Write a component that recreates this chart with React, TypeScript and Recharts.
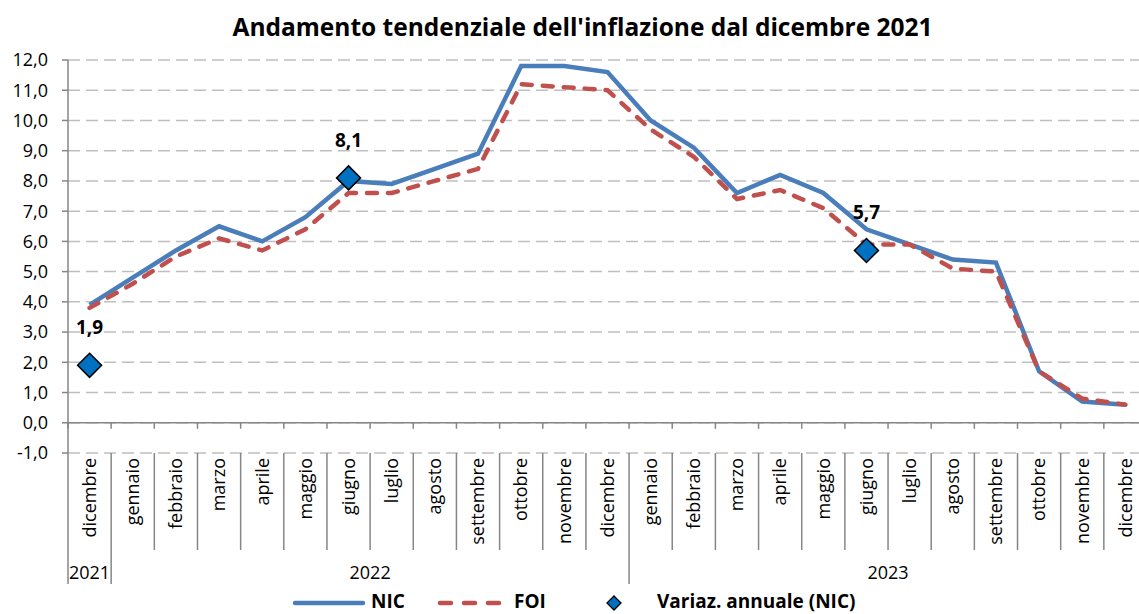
import { ComposedChart, Line, XAxis, YAxis, CartesianGrid, ReferenceLine } from "recharts"

const months = [
  "dicembre",
  "gennaio", "febbraio", "marzo", "aprile", "maggio", "giugno",
  "luglio", "agosto", "settembre", "ottobre", "novembre", "dicembre",
  "gennaio", "febbraio", "marzo", "aprile", "maggio", "giugno",
  "luglio", "agosto", "settembre", "ottobre", "novembre", "dicembre",
]

const years = [
  { label: "2021", start: 0, end: 0 },
  { label: "2022", start: 1, end: 12 },
  { label: "2023", start: 13, end: 24 },
]

const nic = [3.9, 4.8, 5.7, 6.5, 6.0, 6.8, 8.0, 7.9, 8.4, 8.9, 11.8, 11.8, 11.6, 10.0, 9.1, 7.6, 8.2, 7.6, 6.4, 5.9, 5.4, 5.3, 1.7, 0.7, 0.6]
const foi = [3.8, 4.6, 5.5, 6.1, 5.7, 6.4, 7.6, 7.6, 8.0, 8.4, 11.2, 11.1, 11.0, 9.7, 8.8, 7.4, 7.7, 7.1, 5.9, 5.9, 5.1, 5.0, 1.7, 0.8, 0.6]
// variazione annuale NIC, only three points shown
const annual = [1.9, null, null, null, null, null, 8.1, null, null, null, null, null, null, null, null, null, null, null, 5.7, null, null, null, null, null, null]

const yTicks = [-1, 0, 1, 2, 3, 4, 5, 6, 7, 8, 9, 10, 11, 12]

const data = months.map((m, i) => ({
  key: `${m}-${i}`,
  nic: nic[i],
  foi: foi[i],
  annual: annual[i],
}))

const W = 1160
const H = 614
const MARGIN = { top: 60, right: 13, bottom: 30, left: 0 }
const Y_AXIS_W = 68
const X_AXIS_H = 131
const PLOT_W = W - MARGIN.left - MARGIN.right - Y_AXIS_W
const PLOT_H = H - MARGIN.top - MARGIN.bottom - X_AXIS_H
const UNIT = PLOT_H / (yTicks.length - 1)

const FONT = "'Open Sans', sans-serif"
const AXIS_GRAY = "#868686"
const BLUE = "#4a7ebb"
const RED = "#c0504d"

const fmt = (v: number) => v.toFixed(1).replace(".", ",")

function MonthTick(props: any) {
  const { x, y, index } = props
  const bw = PLOT_W / months.length
  const left = x - bw / 2
  const right = x + bw / 2
  const grp = years.find((g) => g.start === index)
  const last = index === months.length - 1
  return (
    <g>
      {/* small ticks on the zero line */}
      <line x1={left} y1={y - UNIT} x2={left} y2={y - UNIT + 6} stroke={AXIS_GRAY} strokeWidth={1.5} />
      {last && <line x1={right} y1={y - UNIT} x2={right} y2={y - UNIT + 6} stroke={AXIS_GRAY} strokeWidth={1.5} />}
      <line x1={left} y1={y} x2={left} y2={y + (grp ? X_AXIS_H : 97)} stroke={AXIS_GRAY} strokeWidth={1.5} />
      {last && <line x1={right} y1={y} x2={right} y2={y + X_AXIS_H} stroke={AXIS_GRAY} strokeWidth={1.5} />}
      <text
        x={x}
        y={y + 5}
        dy="0.35em"
        textAnchor="end"
        transform={`rotate(-90, ${x}, ${y + 5})`}
        fontFamily={FONT}
        fontSize={18}
        fill="#000"
      >
        {months[index]}
      </text>
      {grp && (
        <text
          x={left + ((grp.end - grp.start + 1) * bw) / 2}
          y={y + 120}
          dy="0.35em"
          textAnchor="middle"
          fontFamily={FONT}
          fontSize={18}
          fill="#000"
        >
          {grp.label}
        </text>
      )}
    </g>
  )
}

function Diamond(props: any) {
  const { cx, cy, value } = props
  if (value == null || cy == null) return <g key={props.key} />
  const r = 12
  return (
    <g key={props.key}>
      <path
        d={`M${cx},${cy - r} L${cx + r},${cy} L${cx},${cy + r} L${cx - r},${cy} Z`}
        fill="#0070c0"
        stroke="#000"
        strokeWidth={1.5}
      />
      <text x={cx} y={cy - 31} textAnchor="middle" fontFamily={FONT} fontWeight="bold" fontSize={19} fill="#000">
        {fmt(value)}
      </text>
    </g>
  )
}

function LegendBar() {
  return (
    <svg width={1139} height={26} style={{ position: "absolute", left: 0, top: 588 }}>
      <line x1={295} y1={15} x2={363} y2={15} stroke={BLUE} strokeWidth={4.5} strokeLinecap="round" />
      <text x={371} y={20} fontFamily={FONT} fontWeight="bold" fontSize={19}>NIC</text>
      <line x1={440} y1={15} x2={499} y2={15} stroke={RED} strokeWidth={4.5} strokeLinecap="round" strokeDasharray="11 13" />
      <text x={514} y={20} fontFamily={FONT} fontWeight="bold" fontSize={19}>FOI</text>
      <path d="M614,8 L621,15 L614,22 L607,15 Z" fill="#0070c0" stroke="#000" strokeWidth={1.3} />
      <text x={657} y={20} fontFamily={FONT} fontWeight="bold" fontSize={19}>Variaz. annuale (NIC)</text>
    </svg>
  )
}

export default function App() {
  return (
    <div style={{ position: "absolute", left: 0, top: 0, width: 1139, height: 614, overflow: "hidden", background: "#fff" }}>
      <div
        style={{
          position: "absolute",
          left: 0,
          top: 13,
          width: 1165,
          textAlign: "center",
          fontFamily: FONT,
          fontWeight: "bold",
          fontSize: 24.5,
          lineHeight: "28px",
          color: "#000",
          whiteSpace: "nowrap",
        }}
      >
        Andamento tendenziale dell'inflazione dal dicembre 2021
      </div>
      <ComposedChart width={W} height={H} data={data} margin={MARGIN}>
        <CartesianGrid vertical={false} stroke="#bfbfbf" strokeWidth={1.5} strokeDasharray="12 6" />
        <XAxis
          dataKey="key"
          scale="band"
          interval={0}
          height={X_AXIS_H}
          axisLine={false}
          tickLine={false}
          tickSize={0}
          tickMargin={0}
          tick={<MonthTick />}
        />
        <YAxis
          domain={[-1, 12]}
          ticks={yTicks}
          width={Y_AXIS_W}
          allowDataOverflow
          tickFormatter={fmt}
          axisLine={{ stroke: AXIS_GRAY, strokeWidth: 1.5 }}
          tickLine={{ stroke: AXIS_GRAY, strokeWidth: 1.5 }}
          tickSize={6}
          tickMargin={14}
          tick={{ fontFamily: FONT, fontSize: 18, fill: "#000" }}
        />
        <ReferenceLine y={0} stroke={AXIS_GRAY} strokeWidth={1.5} />
        <Line type="linear" dataKey="nic" stroke={BLUE} strokeWidth={4.5} dot={false} isAnimationActive={false} />
        <Line
          type="linear"
          dataKey="foi"
          stroke={RED}
          strokeWidth={4.5}
          strokeDasharray="10 11"
          strokeLinecap="round"
          dot={false}
          isAnimationActive={false}
        />
        <Line type="linear" dataKey="annual" stroke="none" dot={<Diamond />} activeDot={false} isAnimationActive={false} />
      </ComposedChart>
      <LegendBar />
    </div>
  )
}
